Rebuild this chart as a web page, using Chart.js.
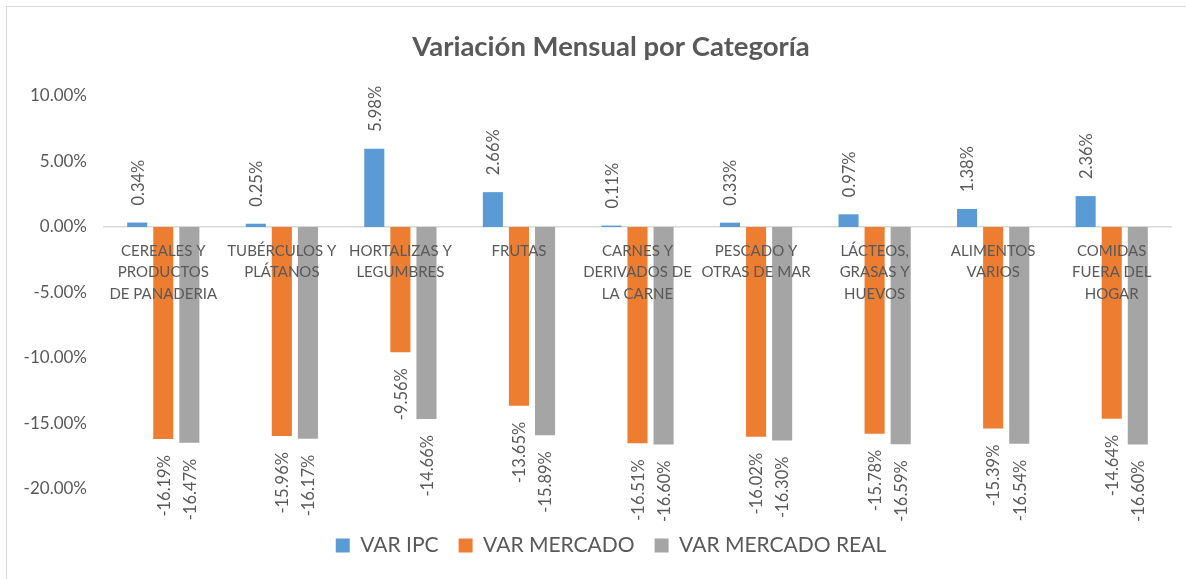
<!DOCTYPE html>
<html lang="es">
<head>
<meta charset="utf-8">
<title>Variación Mensual por Categoría</title>
<script src="https://cdn.jsdelivr.net/npm/chart.js@4.4.1/dist/chart.umd.min.js"></script>
<style>
  html, body { margin: 0; padding: 0; background: #fff; overflow: hidden; }
  .marco {
    position: absolute; left: 6px; top: 6px;
    width: 1212px; height: 590px;
    border: 1px solid #d9d9d9; background: #fff;
  }
  canvas { display: block; }
</style>
</head>
<body>
<div class="marco">
  <canvas id="grafico" width="1212" height="590"></canvas>
</div>
<script>
// Categorías (eje X)
const categorias = [
  ['CEREALES Y', 'PRODUCTOS', 'DE PANADERIA'],
  ['TUBÉRCULOS Y', 'PLÁTANOS'],
  ['HORTALIZAS Y', 'LEGUMBRES'],
  ['FRUTAS'],
  ['CARNES Y', 'DERIVADOS DE', 'LA CARNE'],
  ['PESCADO Y', 'OTRAS DE MAR'],
  ['LÁCTEOS,', 'GRASAS Y', 'HUEVOS'],
  ['ALIMENTOS', 'VARIOS'],
  ['COMIDAS', 'FUERA DEL', 'HOGAR']
];

// Series (en %)
const varIPC          = [0.34, 0.25, 5.98, 2.66, 0.11, 0.33, 0.97, 1.38, 2.36];
const varMercado      = [-16.19, -15.96, -9.56, -13.65, -16.51, -16.02, -15.78, -15.39, -14.64];
const varMercadoReal  = [-16.47, -16.17, -14.66, -15.89, -16.60, -16.30, -16.59, -16.54, -16.60];

// Eje Y
const yMin = -20, yMax = 10, yPaso = 5;

const gris = '#595959';
const fuente = 'Lato, "Open Sans", sans-serif';

// Etiquetas de datos giradas (como en Excel)
const etiquetasDatos = {
  id: 'etiquetasDatos',
  afterDatasetsDraw(chart) {
    const ctx = chart.ctx;
    ctx.save();
    ctx.fillStyle = gris;
    ctx.font = '16.5px ' + fuente;
    ctx.textBaseline = 'middle';
    chart.data.datasets.forEach((ds, i) => {
      const meta = chart.getDatasetMeta(i);
      meta.data.forEach((bar, j) => {
        const v = ds.data[j];
        const txt = v.toFixed(2) + '%';
        ctx.save();
        if (v >= 0) {
          ctx.translate(bar.x, bar.y - 17);
          ctx.rotate(-Math.PI / 2);
          ctx.textAlign = 'left';
        } else {
          ctx.translate(bar.x, bar.y + 16);
          ctx.rotate(-Math.PI / 2);
          ctx.textAlign = 'right';
        }
        ctx.fillText(txt, 0, 1);
        ctx.restore();
      });
    });
    ctx.restore();
  }
};

// Deja hueco entre el área del gráfico y la leyenda (las etiquetas negativas caen ahí)
const espacioLeyenda = {
  id: 'espacioLeyenda',
  beforeInit(chart) {
    const leyenda = chart.legend;
    const fitOriginal = leyenda.fit;
    const drawOriginal = leyenda.draw;
    leyenda.fit = function () {
      fitOriginal.call(this);
      this.height += 44;
    };
    leyenda.draw = function (...args) {
      this.ctx.save();
      this.ctx.translate(0, 26);
      drawOriginal.apply(this, args);
      this.ctx.restore();
    };
  }
};

new Chart(document.getElementById('grafico'), {
  type: 'bar',
  data: {
    labels: categorias,
    datasets: [
      { label: 'VAR IPC', data: varIPC, backgroundColor: '#5B9BD5' },
      { label: 'VAR MERCADO', data: varMercado, backgroundColor: '#ED7D31' },
      { label: 'VAR MERCADO REAL', data: varMercadoReal, backgroundColor: '#A5A5A5' }
    ]
  },
  options: {
    responsive: false,
    animation: false,
    datasets: {
      bar: { categoryPercentage: 0.66, barPercentage: 0.77 }
    },
    layout: { padding: { left: 14, right: 18, top: 0, bottom: 13 } },
    plugins: {
      title: {
        display: true,
        text: 'Variación Mensual por Categoría',
        color: gris,
        font: { family: fuente, size: 27.5, weight: 'bold' },
        padding: { top: 24, bottom: 32 }
      },
      legend: {
        position: 'bottom',
        labels: {
          color: gris,
          font: { family: fuente, size: 21 },
          boxWidth: 14,
          boxHeight: 14,
          padding: 20
        }
      },
      tooltip: { enabled: false }
    },
    scales: {
      x: {
        position: { y: 0 },
        grid: { display: false, drawTicks: false },
        border: { display: true, color: '#d9d9d9', width: 1.5 },
        ticks: {
          z: 1,
          color: gris,
          font: { family: fuente, size: 15, lineHeight: 1.45 },
          padding: 13,
          maxRotation: 0,
          autoSkip: false
        }
      },
      y: {
        min: yMin,
        max: yMax,
        grid: { display: false, drawTicks: false },
        border: { display: false },
        ticks: {
          stepSize: yPaso,
          color: gris,
          font: { family: fuente, size: 17 },
          padding: 17,
          callback: v => v.toFixed(2) + '%'
        },
        afterFit: s => { s.width = 83; }
      },
      // eje vacío a la derecha, solo deja margen
      margen: {
        type: 'linear',
        position: 'right',
        grid: { display: false, drawTicks: false },
        border: { display: false },
        ticks: { display: false },
        afterFit: s => { s.width = 30; }
      }
    }
  },
  plugins: [etiquetasDatos, espacioLeyenda]
});
</script>
</body>
</html>
